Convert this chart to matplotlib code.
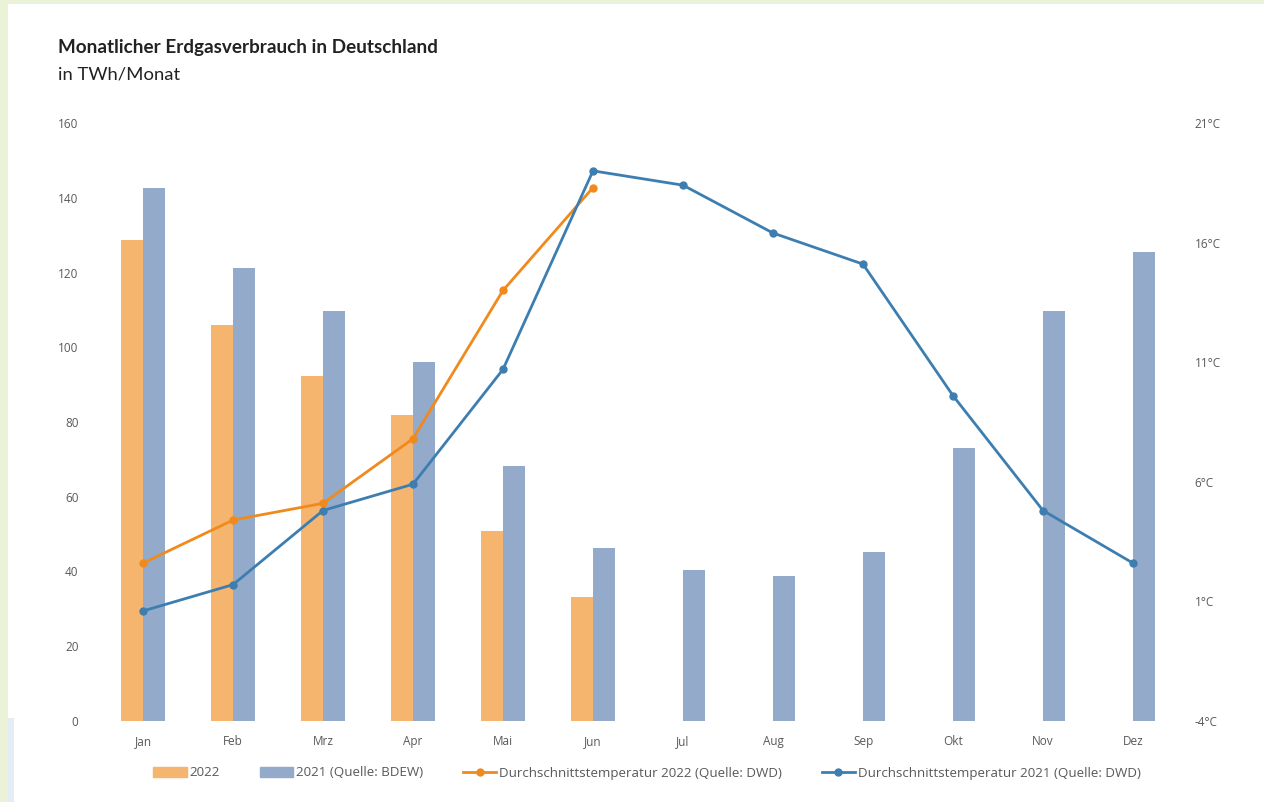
# Monatlicher Erdgasverbrauch in Deutschland - bars plus temperature lines.
import matplotlib.pyplot as plt
from matplotlib.patches import Rectangle
from matplotlib.lines import Line2D
import numpy as np

months = ['Jan', 'Feb', 'Mrz', 'Apr', 'Mai', 'Jun', 'Jul', 'Aug', 'Sep', 'Okt', 'Nov', 'Dez']
gas_2022 = [128.7, 106.0, 92.3, 81.9, 50.8, 33.2]
gas_2021 = [142.6, 121.2, 109.7, 96.1, 68.2, 46.3, 40.4, 38.8, 45.2, 73.0, 109.7, 125.5]
temp_2022 = [2.6, 4.4, 5.1, 7.8, 14.0, 18.3]
temp_2021 = [0.6, 1.7, 4.8, 5.9, 10.7, 19.0, 18.4, 16.4, 15.1, 9.6, 4.8, 2.6]
left_ticks = [0, 20, 40, 60, 80, 100, 120, 140, 160]
right_ticks = [-4, 1, 6, 11, 16, 21]

c_bar22 = '#F5B56F'
c_bar21 = '#93AACA'
c_line22 = '#F08A1C'
c_line21 = '#3D7EB1'
c_tick = '#595959'

plt.rcParams['font.family'] = ['Open Sans', 'DejaVu Sans']

fig = plt.figure(figsize=(12.64, 8.02), dpi=100)
fig.patch.set_facecolor('#EAF2D8')
# white panel on the green page (kept behind the axes)
fig.patches.append(Rectangle((8 / 1264, 0), 1 - 8 / 1264, 1 - 4 / 802,
                             transform=fig.transFigure, facecolor='white',
                             edgecolor='none', zorder=-10))
fig.patches.append(Rectangle((8 / 1264, 0), 6 / 1264, 84 / 802,
                             transform=fig.transFigure, facecolor='#E4EDF5',
                             edgecolor='none', zorder=-9))

ax = fig.add_axes([98 / 1264, 1 - 721 / 802, 1080 / 1264, 598 / 802])
ax.set_facecolor('none')
x = np.arange(len(months))
w = 0.245
ax.bar(x[:len(gas_2022)] - w / 2, gas_2022, w, color=c_bar22, zorder=2)
ax.bar(x + w / 2, gas_2021, w, color=c_bar21, zorder=2)
ax.set_xlim(-0.5, 11.5)
ax.set_ylim(0, 160)
ax.set_yticks(left_ticks)
ax.set_xticks(x)
ax.set_xticklabels(months)
ax.tick_params(length=0, labelsize=8.5, colors=c_tick, pad=10)
ax.tick_params(axis='y', pad=14)
for s in ax.spines.values():
    s.set_visible(False)

ax2 = ax.twinx()
ax2.plot(x[:len(temp_2022)], temp_2022, color=c_line22, lw=2, marker='o', ms=5, zorder=3)
ax2.plot(x, temp_2021, color=c_line21, lw=2, marker='o', ms=5, zorder=3)
ax2.set_ylim(-4, 21)
ax2.set_yticks(right_ticks)
ax2.set_yticklabels(['{}°C'.format(t) for t in right_ticks])
ax2.tick_params(length=0, labelsize=8.5, colors=c_tick, pad=12)
for s in ax2.spines.values():
    s.set_visible(False)

fig.text(58 / 1264, 1 - 48 / 802, 'Monatlicher Erdgasverbrauch in Deutschland',
         fontsize=13.6, fontweight='bold', color='#222222', va='center',
         family=['Lato', 'DejaVu Sans'])
fig.text(58 / 1264, 1 - 74 / 802, 'in TWh/Monat', fontsize=13.3, color='#222222',
         va='center', family=['Lato', 'DejaVu Sans'])

handles = [Rectangle((0, 0), 1, 1, color=c_bar22),
           Rectangle((0, 0), 1, 1, color=c_bar21),
           Line2D([], [], color=c_line22, lw=2, marker='o', ms=5),
           Line2D([], [], color=c_line21, lw=2, marker='o', ms=5)]
labels = ['2022', '2021 (Quelle: BDEW)', 'Durchschnittstemperatur 2022 (Quelle: DWD)',
          'Durchschnittstemperatur 2021 (Quelle: DWD)']
leg = fig.legend(handles, labels, loc='center', bbox_to_anchor=(647 / 1264, 1 - 773 / 802),
                 ncol=4, frameon=False, fontsize=9.6, handlelength=2.5, handleheight=0.7,
                 columnspacing=3.0, handletextpad=0.2)
for t in leg.get_texts():
    t.set_color(c_tick)

fig.savefig('out.png', dpi=100, facecolor=fig.get_facecolor())
